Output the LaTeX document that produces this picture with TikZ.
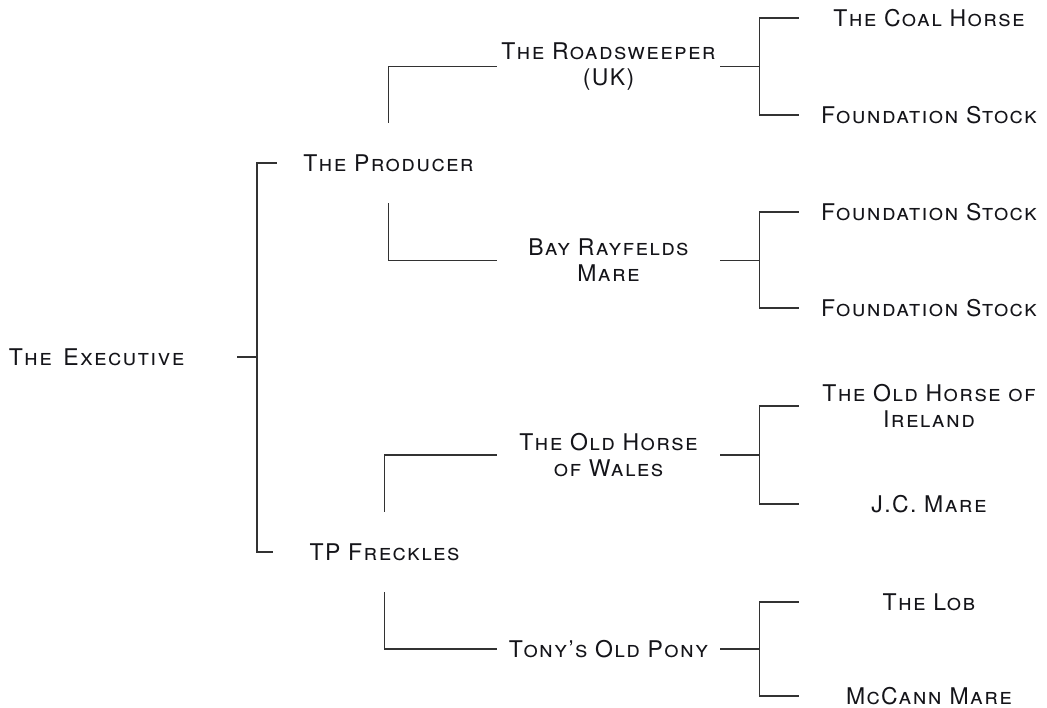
\documentclass[tikz,border=0pt]{standalone}
\usepackage{fontspec}
\setmainfont{TeX Gyre Heros}[LetterSpace=6]
\usepackage{tikz}
\usetikzlibrary{positioning}
\definecolor{pedline}{RGB}{50, 50, 50}
\definecolor{pedtext}{RGB}{20, 20, 25}

\begin{document}
\begin{tikzpicture}[
  x=1pt, y=-1pt,
  horse/.style={text=pedtext, align=center, inner sep=0pt, font=\fontsize{23}{26}\selectfont\scshape},
  dam/.style={horse, minimum width=223pt, minimum height=80pt},
  gdam/.style={horse, minimum width=223pt},
  ggdam/.style={horse, minimum width=260pt},
  link/.style={draw=pedline, line width=1.3pt}
]
  \useasboundingbox (0, 0) rectangle (1047, 707);

  \node[horse, minimum width=281pt] (exec) at (96.5, 357) {The\enspace Executive};
  \coordinate (split) at (257, 357);

  \node[dam] (prod) at (388.5, 163) {The Producer};
  \node[dam] (freck) at (384.5, 552) {TP Freckles};

  \node[gdam] (road) at (608.5, 66.5) {The Roadsweeper\\(UK)};
  \node[gdam] (bay) at (608.5, 260.5) {Bay Rayfelds\\Mare};
  \node[gdam] (wales) at (608.5, 455) {The Old Horse\\of Wales};
  \node[gdam] (tony) at (608.5, 649) {Tony's Old Pony};

  \node[ggdam] (coal) at (929, 18) {The Coal Horse};
  \node[ggdam] (fsa) at (929, 115) {Foundation Stock};
  \node[ggdam] (fsb) at (929, 212) {Foundation Stock};
  \node[ggdam] (fsc) at (929, 308) {Foundation Stock};
  \node[ggdam] (irel) at (929, 406) {The Old Horse of\\Ireland};
  \node[ggdam] (jc) at (929, 504) {J.C. Mare};
  \node[ggdam] (lob) at (929, 602) {The Lob};
  \node[ggdam] (mccann) at (929, 696) {McCann Mare};

  % sire and dam lines
  \draw[link] (exec.east) -- (split);
  \draw[link] (prod.west) -| (split) |- (freck.west);
  \draw[link] (prod.north) |- (road.west);
  \draw[link] (prod.south) |- (bay.west);
  \draw[link] (freck.north) |- (wales.west);
  \draw[link] (freck.south) |- (tony.west);
  \foreach \p/\s/\d in {road/coal/fsa, bay/fsb/fsc, wales/irel/jc, tony/lob/mccann} {
    \draw[link] (\p.east) -- ++(40, 0);
    \draw[link] (\s.west) -- ++(-39, 0) |- (\d.west);
  }
\end{tikzpicture}
\end{document}
